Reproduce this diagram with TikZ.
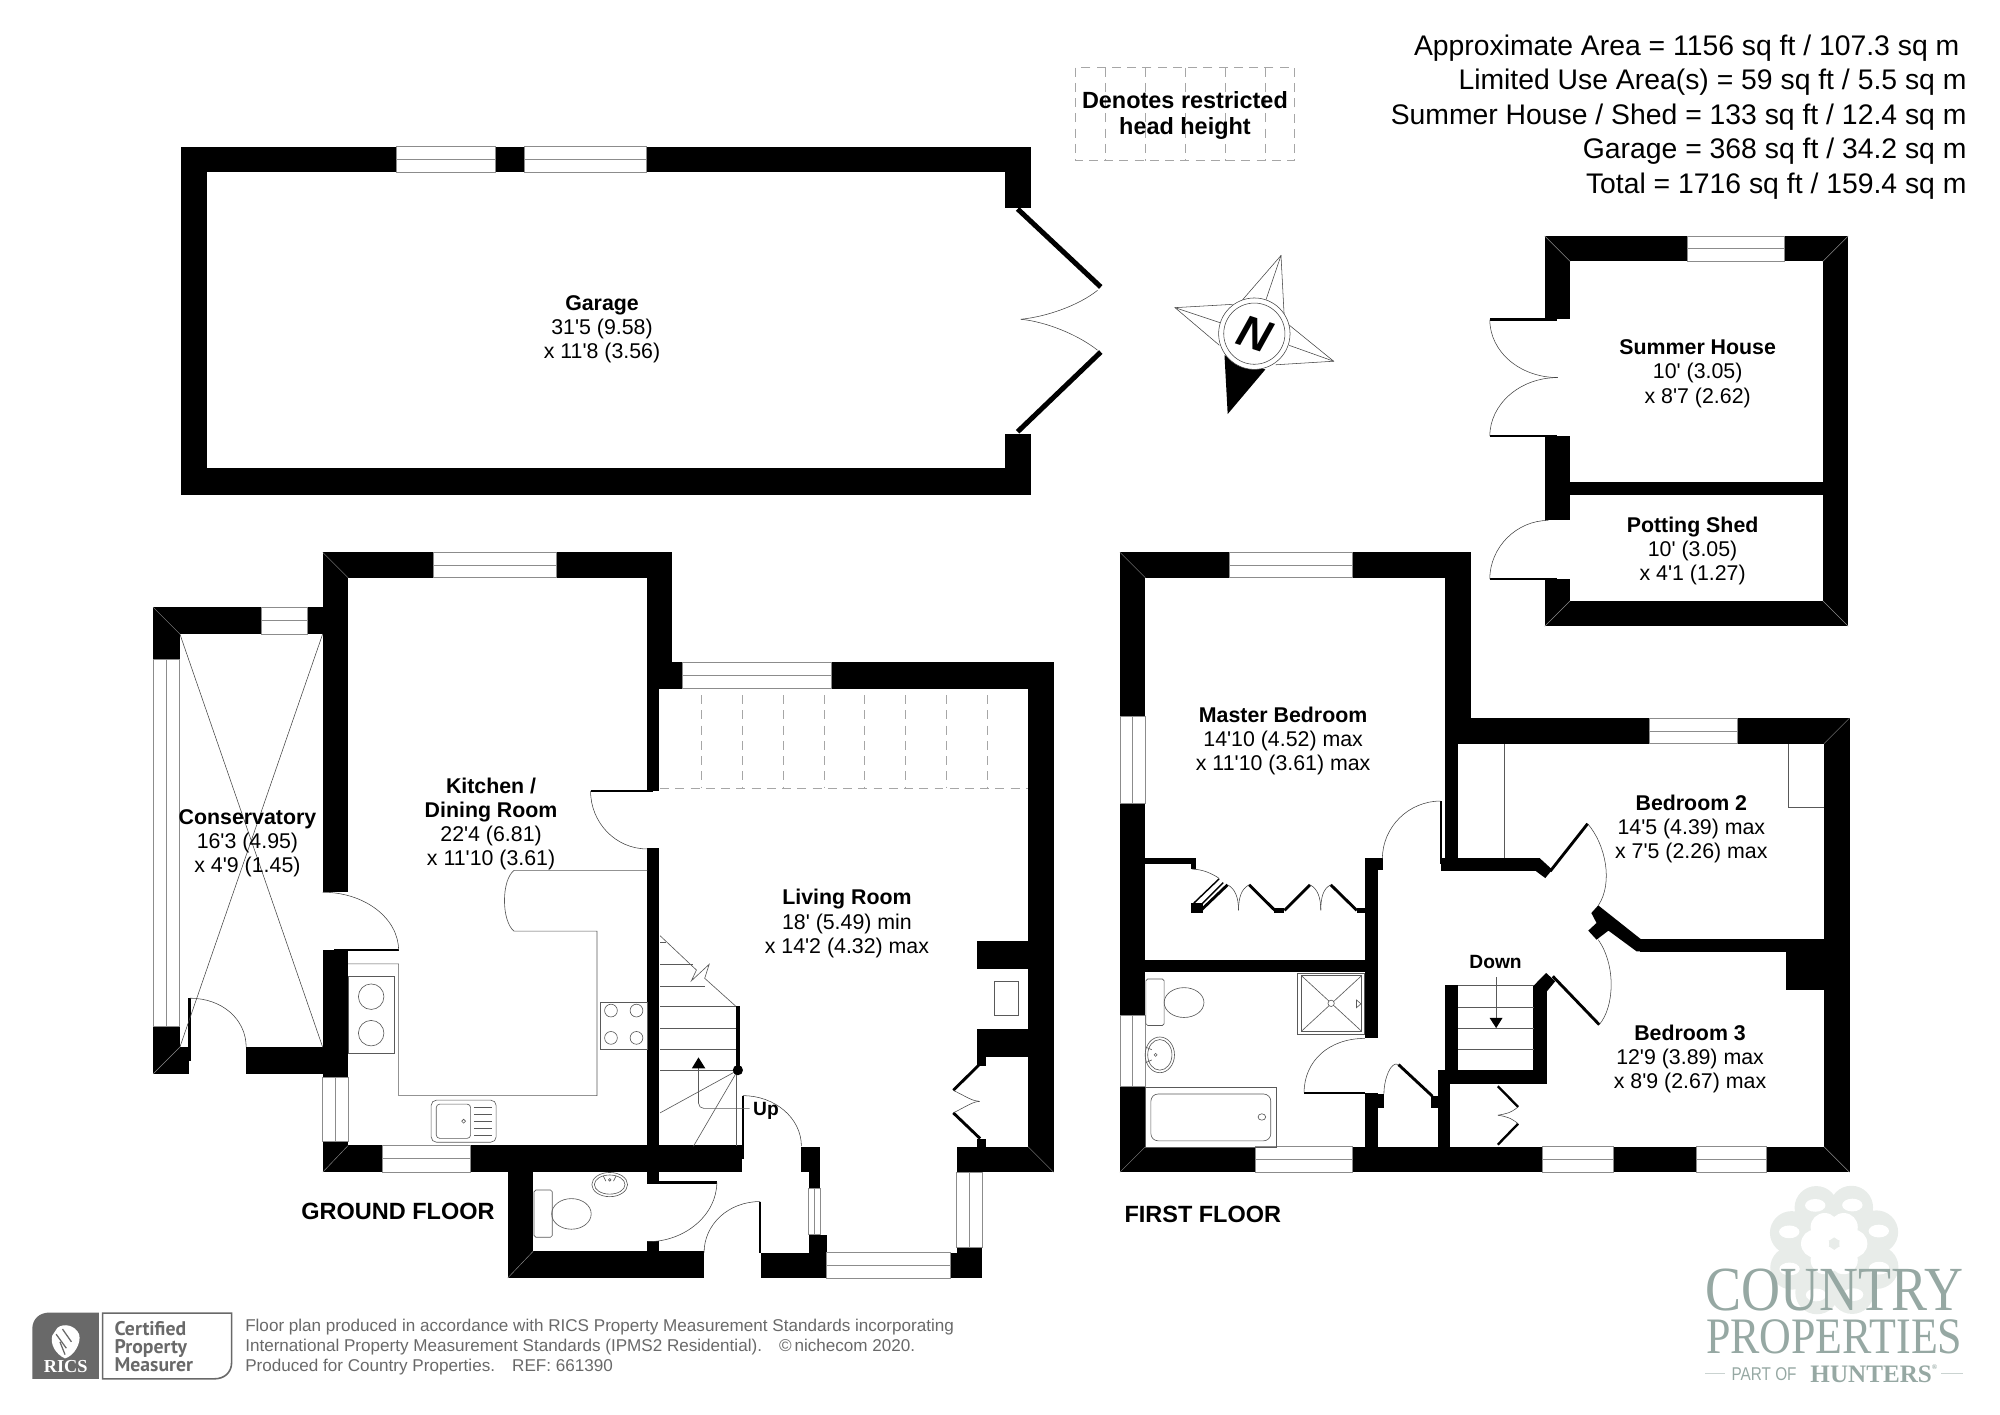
\documentclass[tikz,border=0pt]{standalone}
\usepackage{fontspec}
\setmainfont{Liberation Sans}
\newfontfamily\planface{Liberation Sans}[Ligatures=ResetAll]
\newfontfamily\logoface{Liberation Serif}
\newfontfamily\badgeface{PT Sans}
\definecolor{logogrey}{RGB}{150,168,163}
\definecolor{petal}{RGB}{232,236,233}
\definecolor{printgrey}{RGB}{105,105,105}
\tikzset{
  wall/.style={fill=black},
  winbox/.style={draw=black!45,fill=white,line width=.4pt},
  fitting/.style={draw=black!65,line width=.35pt},
  sweep/.style={draw=black!75,line width=.3pt},
  leaf/.style={draw=black,line width=1.3pt},
  heavyleaf/.style={draw=black,line width=2.8pt},
  lowroof/.style={draw=black!35,dashed,dash pattern=on 5pt off 3.5pt,line width=.4pt},
  room/.style={align=center,inner sep=0pt,font=\fontsize{11.9}{13.4}\planface\selectfont},
  floorname/.style={inner sep=0pt,font=\fontsize{13.1}{15}\selectfont\bfseries}
}
\begin{document}
\begin{tikzpicture}[x=.025cm,y=-.025cm]
\useasboundingbox (0,0) rectangle (1568,1108.6);

% walls
\foreach \xa/\ya/\xb/\yb in {
  142/115/808/135, 142/115/162/388, 142/367/808/388, 788/115/808/163, 788/340/808/388,
  1211/185/1449/205, 1211/185/1231/250, 1211/342/1231/408, 1211/454/1231/491, 1429/185/1449/491,
  1211/378/1449/388, 1211/471/1449/491,
  120/476/253/497, 120/476/141/517, 120/805/141/842, 120/821/148/842, 193/821/253/842,
  253/433/527/453, 253/433/273/699, 253/745/273/845, 253/895/273/919, 253/898/582/919,
  507/433/527/520, 507/520/517/620, 507/665/517/928, 507/973/517/981,
  507/519/826/540, 806/519/826/919, 766/738/806/760, 766/807/806/829, 766/829/773/836,
  766/893/773/899, 750/899/826/919, 745/982/770/1002, 750/978/770/1002, 628/899/643/919, 634/919/643/932,
  634/968/648/1002, 597/982/648/1002, 398/919/418/1002, 398/981/552/1002,
  878/433/1153/453, 878/433/898/562, 878/630/898/796, 878/852/898/919, 878/899/1450/919,
  1133/433/1153/583, 1133/563/1143/683, 1133/563/1450/583, 1430/563/1450/919,
  1130/673/1207/683, 1400/746/1430/776, 1286/736/1430/746,
  1070/673/1084/682, 1070/673/1080/814, 1070/857/1080/919, 898/753/1080/762,
  898/673/938/677, 934/673/938/681, 934/708/943/716, 999/712/1007/716, 1064/712/1070/716,
  1080/858/1085/869, 1122/859/1127/869, 1127/839/1137/919, 1127/839/1213/850,
  1133/772/1143/839, 1202/773/1213/850}
  {\fill[wall] (\xa,\ya) rectangle (\xb,\yb);}
\fill[wall] (1207,672.7) -- (1217,681.8) -- (1211.5,688.4) -- (1204.2,683) -- cycle;
\fill[wall] (1253,709.8) -- (1286.3,736.2) -- (1300,736.2) -- (1300,745.8) -- (1283,745.8)
  -- (1261,729.6) -- (1251.7,736.7) -- (1245.2,729.6) -- (1251.7,723.6) -- (1247.6,715.8) -- cycle;
\fill[wall] (1202.4,772.7) -- (1212.2,762.8) -- (1219.3,769.3) -- (1212.8,777.2) -- cycle;

% corner mitres
\foreach \xa/\ya/\xb/\yb in {
  120/476/141/497, 120/842/141/821, 253/433/273/453, 253/919/273/898, 826/919/806/899,
  398/1002/418/981, 1211/185/1231/205, 1449/185/1429/205, 1449/491/1429/471, 1211/491/1231/471,
  878/433/898/453, 878/919/898/899, 1450/563/1430/583, 1450/919/1430/899}
  {\draw[black!45,line width=.25pt] (\xa,\ya) -- (\xb,\yb);}

% windows along x, then along y
\foreach \xa/\xb/\ya/\yb in {
  311/388/115/135, 411/507/115/135, 1323/1399/185/205, 205/241/476/497, 340/436/433/453,
  535/652/519/540, 648/745/982/1002, 964/1060/433/453, 984/1060/899/919,
  1293/1362/563/583, 1209/1265/899/919, 1330/1385/899/919, 300/369/898/919}
  {\draw[winbox] (\xa,\ya) rectangle (\xb,\yb);
   \draw[winbox] (\xa,{(\ya+\yb)/2}) -- (\xb,{(\ya+\yb)/2});}
\foreach \xa/\xb/\ya/\yb in {
  120/141/517/805, 253/273/845/895, 634/643/932/968, 750/770/919/978, 878/898/562/630, 878/898/796/852}
  {\draw[winbox] (\xa,\ya) rectangle (\xb,\yb);
   \draw[winbox] ({(\xa+\xb)/2},\ya) -- ({(\xa+\xb)/2},\yb);}

% door leaves
\draw[heavyleaf] (797.8,163.8) -- (863,225);
\draw[heavyleaf] (797.8,338.5) -- (863,276);
\draw[leaf] (148.5,782.6) -- (148.5,832);
\draw[leaf] (262,745) -- (312.5,745);
\draw[leaf] (463,620) -- (512,620);
\draw[leaf] (507.6,927) -- (562,927);
\draw[leaf] (596,942) -- (596,982);
\draw[leaf] (582.5,859) -- (582.5,909);
\draw[leaf] (1168,250.6) -- (1221,250.6);
\draw[leaf] (1168,342) -- (1221,342);
\draw[leaf] (1168,454) -- (1221,454);
\draw[leaf] (1129.5,628) -- (1129.5,677);
\draw[leaf] (1022.4,856.7) -- (1070,856.7);
\draw[leaf,line width=1.6pt] (768.4,834) -- (747.4,854.8);
\draw[leaf,line width=1.6pt] (768.4,892.6) -- (747.4,872.5);
\draw[leaf,line width=1.6pt] (1215.4,683) -- (1244.7,645.8);
\draw[leaf,line width=1.6pt] (1217.4,765.4) -- (1253.8,803.3);
\draw[leaf,line width=1.6pt] (1096.4,834.6) -- (1123,859.4);
\draw[leaf] (1174.3,851.6) -- (1190.2,867.8);
\draw[leaf] (1190.2,881) -- (1174.3,897.4);
\draw[leaf,line width=.8pt] (955.8,689) -- (936,708);
\draw[leaf,line width=.8pt] (959,692) -- (940,711);
\draw[leaf,line width=1.6pt] (941.5,713.7) -- (962.4,693.7);
\draw[leaf,line width=1.6pt] (979.3,693.7) -- (999.5,713.7);
\draw[leaf,line width=1.6pt] (1007,713.7) -- (1027,693.7);
\draw[leaf,line width=1.6pt] (1043.3,693.7) -- (1063.7,713.7);

% door sweeps
\draw[sweep] (860.5,227.6) .. controls +(-15,12) and +(20,-2) .. (800.4,250.3);
\draw[sweep] (860.5,274.6) .. controls +(-15,-12) and +(20,2) .. (800.4,250.3);
\draw[sweep] (149,782.6) .. controls +(25,0) and +(0,-22) .. (193,821);
\draw[sweep] (253,699.5) .. controls +(33,0) and +(0,-25) .. (312.5,745);
\draw[sweep] (463,620) .. controls +(0,25) and +(-25,0) .. (507.6,665.6);
\draw[sweep] (562,927) .. controls +(0,25) and +(30,0) .. (507.6,973.5);
\draw[sweep] (596,942) .. controls +(-25,0) and +(0,-22) .. (552,982);
\draw[sweep] (582.5,859) .. controls +(25,0) and +(0,-22) .. (628.3,898.6);
\draw[sweep] (747.4,854.8) .. controls +(10,5) and +(-5,0) .. (768,863.5);
\draw[sweep] (747.4,872.5) .. controls +(10,-5) and +(-5,0) .. (768,863.5);
\draw[sweep] (1168,250.6) .. controls +(0,25) and +(-30,0) .. (1221.4,296);
\draw[sweep] (1168,342) .. controls +(0,-25) and +(-30,0) .. (1221.4,296);
\draw[sweep] (1168,454) .. controls +(0,-25) and +(-25,0) .. (1214,408);
\draw[sweep] (1129.5,628) .. controls +(-25,0) and +(0,-25) .. (1083.8,673.2);
\draw[sweep] (1022.4,856.7) .. controls +(0,-25) and +(-28,0) .. (1070,814.1);
\draw[sweep] (1085,857.7) .. controls +(0,-12) and +(-6,-3) .. (1096.4,834.6);
\draw[sweep] (1244.7,645.8) .. controls +(14,16) and +(12,-18) .. (1253,710);
\draw[sweep] (1253.8,803.3) .. controls +(12,-14) and +(14,20) .. (1253,736.7);
\draw[sweep] (934.4,681.4) .. controls +(8,0) and +(-6,-4) .. (955.8,688.6);
\draw[sweep] (962.4,693.7) .. controls +(6,3) and +(0,-10) .. (971,713.7);
\draw[sweep] (979.3,693.7) .. controls +(-6,3) and +(0,-10) .. (971,713.7);
\draw[sweep] (1027,693.7) .. controls +(6,3) and +(0,-10) .. (1035.5,713.7);
\draw[sweep] (1043.3,693.7) .. controls +(-6,3) and +(0,-10) .. (1035.5,713.7);
\draw[sweep] (1190.2,867.8) .. controls +(-6,5) and +(6,-1) .. (1174.3,874.3);
\draw[sweep] (1190.2,881) .. controls +(-6,-5) and +(6,1) .. (1174.3,874.3);

% conservatory roof
\draw[sweep] (141,497) -- (253,821);
\draw[sweep] (253,497) -- (141,821);

% kitchen
\draw[fitting] (507.6,682.4) -- (403,682.4) .. controls (393,690) and (393,722) .. (403,730)
  -- (468,730) -- (468,859) -- (312.5,859) -- (312.5,755.7) -- (273,755.7);
\draw[fitting] (273,765.8) rectangle (309,825.5);
\draw[fitting] (291,781.4) circle (10);
\draw[fitting] (291,810) circle (10);
\draw[fitting] (471,786) rectangle (507.6,823);
\foreach \hx in {479,499} \foreach \hy in {792.3,813.7}
  {\draw[fitting] (\hx,\hy) circle (5);}
\draw[fitting,rounded corners=3pt] (338,862.5) rectangle (389,895.5);
\draw[fitting,rounded corners=2pt] (342,865.6) rectangle (369,892.5);
\draw[fitting] (363.5,879) circle (1.5);
\foreach \hy in {868,873.5,879,884.5,890}
  {\draw[fitting,line width=.7pt] (371.5,\hy) -- (385.5,\hy);}

% ground floor wc
\draw[fitting,rounded corners=1pt] (418.7,933) rectangle (433,970);
\draw[fitting] (448,951.7) ellipse (15.5 and 12);
\draw[fitting] (478,928.7) ellipse (14 and 9.5);
\draw[fitting] (478,928.7) ellipse (12 and 7.5);
\draw[fitting] (478,925) circle (1);
\draw[fitting] (473,922) -- (475,926);
\draw[fitting] (483,922) -- (481,926);

% fireplace
\draw[fitting] (779.4,769.4) rectangle (798,796);

% ground floor stairs
\foreach \ty/\tx in {739/522,756/543,773/553,789/577,806/578,823/578,839/578}
  {\draw[fitting] (517.5,\ty) -- (\tx,\ty);}
\draw[fitting] (517.5,733.6) -- (546,760.5) -- (542,769) -- (556,756) -- (552.5,767) -- (577,789);
\draw[fitting] (578.5,839) -- (517.5,872.5);
\draw[fitting] (578.5,839) -- (543.7,898.6);
\draw[fitting] (577,839) -- (577,898.6);
\draw[black,line width=2.2pt] (578.5,789) -- (578.5,839);
\fill[black] (578.5,839) circle (4);
\draw[fitting,rounded corners=3pt] (587.7,869) -- (547.6,869) -- (547.6,836);
\fill[black] (547.6,829) -- (553,837.6) -- (542.4,837.6) -- cycle;
\node[inner sep=0pt,font=\fontsize{10.7}{12}\selectfont\bfseries] (Upn) at (600.5,871) {Up};

% restricted head height over the living room
\draw[lowroof] (517.5,618) -- (806,618);
\foreach \rx in {549.7,581.7,613.8,646,678,709.7,742,774}
  {\draw[lowroof] (\rx,545) -- (\rx,618);}

% bathroom
\draw[fitting,rounded corners=1pt] (898.4,767.5) rectangle (912.7,804);
\draw[fitting] (928.3,786) ellipse (15.6 and 11.7);
\draw[fitting] (909.3,827) ellipse (11.5 and 14);
\draw[fitting] (909.3,827) ellipse (9.5 and 12);
\draw[fitting] (906,827) circle (1.2);
\draw[fitting] (898.5,821) -- (903,823);
\draw[fitting] (898.5,833) -- (903,831);
\draw[fitting] (898,852.6) rectangle (1000.8,899.2);
\draw[fitting,rounded corners=4pt] (902.3,857.7) rectangle (996.3,894.4);
\draw[fitting] (989.3,875.7) ellipse (3 and 2.5);
\draw[fitting] (1017,763) rectangle (1070,811);
\draw[fitting] (1020.4,765) rectangle (1067.4,808.4);
\draw[fitting] (1020.4,765) -- (1067.4,808.4);
\draw[fitting] (1020.4,808.4) -- (1067.4,765);
\fill[white] (1043.6,786.6) circle (2.5);
\draw[fitting] (1043.6,786.6) circle (2.5);
\draw[fitting] (1063.5,784) -- (1067,787) -- (1063.5,790) -- cycle;

% first floor stairs and bedroom lines
\foreach \ty in {772.7,789.5,806.4,823}
  {\draw[fitting] (1143.4,\ty) -- (1202.4,\ty);}
\draw[fitting] (1173,766) -- (1173,800);
\fill[black] (1173,806) -- (1167.8,798) -- (1178,798) -- cycle;
\node[inner sep=0pt,font=\fontsize{10.7}{12}\selectfont\bfseries] (Downn) at (1172.5,754.5) {Down};
\draw[fitting] (1179.5,583.4) -- (1179.5,672.7);
\draw[fitting] (1402,583.4) -- (1402,633) -- (1429.7,633);

% restricted head height key
\draw[lowroof] (843,53) rectangle (1015,126);
\foreach \rx in {866.5,897.6,929,960.4,991.7}
  {\draw[lowroof] (\rx,53) -- (\rx,126);}
\node[align=center,inner sep=0pt,font=\fontsize{13.07}{14.9}\selectfont\bfseries] (key) at (929,90.5) {Denotes restricted\\head height};

% compass
\fill[black] (960,278.5) -- (962.5,324.6) -- (992,289.7) -- cycle;
\draw[sweep] (974.2,235) -- (1004.3,200.3) -- (1006.7,246);
\draw[sweep] (992.5,235) -- (1004.3,200.3);
\draw[sweep] (966.4,238.6) -- (921.2,241.2) -- (956,270.7);
\draw[sweep] (956.5,253) -- (921.2,241.2);
\draw[sweep] (1009.3,253.7) -- (1045.6,283.2) -- (1000,286);
\draw[sweep] (1010.6,270.7) -- (1045.6,283.2);
\draw[sweep,fill=white] (983.4,261.6) circle (28);
\draw[sweep] (983.4,261.6) circle (24);
\node[rotate=-18,inner sep=0pt,font=\fontsize{25}{25}\selectfont\bfseries\itshape] (north) at (983.4,261.6) {N};

% rooms
\node[room] (garage) at (472,258) {\textbf{Garage}\\31'5 (9.58)\\x 11'8 (3.56)};
\node[room] (summer) at (1331,293) {\textbf{Summer House}\\10' (3.05)\\x 8'7 (2.62)};
\node[room] (potting) at (1327,432) {\textbf{Potting Shed}\\10' (3.05)\\x 4'1 (1.27)};
\node[room] (conserv) at (194,661) {\textbf{Conservatory}\\16'3 (4.95)\\x 4'9 (1.45)};
\node[room] (kitchen) at (385,646) {\textbf{Kitchen /}\\\textbf{Dining Room}\\22'4 (6.81)\\x 11'10 (3.61)};
\node[room] (living) at (664,724) {\textbf{Living Room}\\18' (5.49) min\\x 14'2 (4.32) max};
\node[room] (master) at (1006,581) {\textbf{Master Bedroom}\\14'10 (4.52) max\\x 11'10 (3.61) max};
\node[room] (bedtwo) at (1326,650) {\textbf{Bedroom 2}\\14'5 (4.39) max\\x 7'5 (2.26) max};
\node[room] (bedthree) at (1325,830) {\textbf{Bedroom 3}\\12'9 (3.89) max\\x 8'9 (2.67) max};
\node[floorname] (ground) at (312,950) {GROUND FLOOR};
\node[floorname] (first) at (943,952) {FIRST FLOOR};

% areas
\node[align=right,anchor=north east,inner sep=0pt,font=\fontsize{15.8}{19.2}\selectfont] (areas) at (1542,27)
  {Approximate Area = 1156 sq ft / 107.3 sq m\kern4pt\\Limited Use Area(s) = 59 sq ft / 5.5 sq m\\Summer House / Shed = 133 sq ft / 12.4 sq m\\Garage = 368 sq ft / 34.2 sq m\\Total = 1716 sq ft / 159.4 sq m};

% footer
\fill[printgrey] (25.3,1081) -- (25.3,1042) .. controls (25.3,1034) and (31,1029) .. (39,1029) -- (77.6,1029) -- (77.6,1081) -- cycle;
\draw[printgrey,line width=.9pt] (80.5,1029.5) -- (181.6,1029.5) -- (181.6,1068) .. controls (181.6,1076) and (176,1081) .. (168,1081) -- (80.5,1081) -- cycle;
\fill[white] (45,1041) .. controls (50,1037) and (59,1039) .. (62,1046) .. controls (64,1053) and (58,1063) .. (51,1065)
  .. controls (44,1062) and (39,1054) .. (41,1047) -- cycle;
\foreach \sa/\sb/\sc/\sd in {44/1046/52/1057, 49/1042/56/1052, 47/1052/51/1062}
  {\draw[printgrey,line width=.7pt] (\sa,\sb) -- (\sc,\sd);}
\node[inner sep=0pt,text=white,font=\fontsize{10.2}{11}\logoface\selectfont\bfseries] (rics) at (51.5,1071.5) {RICS};
\node[align=left,anchor=west,inner sep=0pt,text=printgrey,font=\fontsize{11}{10.1}\badgeface\selectfont\bfseries] (measurer) at (89.6,1055.8) {Certified\\Property\\Measurer};
\node[align=left,anchor=west,inner sep=0pt,text=printgrey,font=\fontsize{9.53}{11.3}\selectfont] (notes) at (192,1056)
  {Floor plan produced in accordance with RICS Property Measurement Standards incorporating\\International Property Measurement Standards (IPMS2 Residential).\quad\textcopyright\,nichecom 2020.\\Produced for Country Properties.\quad REF: 661390};

% logo
\foreach \a in {0,45,...,315}
  {\fill[petal] ({1438+36*cos(\a+22)},{980+36*sin(\a+22)}) circle (17);}
\fill[petal] (1438,980) circle (36);
\foreach \a in {0,45,...,315}
  {\fill[white] ({1438+38*cos(\a+22)},{980+38*sin(\a+22)}) ellipse (8 and 5);}
\foreach \a in {0,60,...,300}
  {\fill[white] ({1438+15*cos(\a)},{975+15*sin(\a)}) circle (11);}
\node[inner sep=0pt,text=logogrey,align=center,xscale=.86,font=\logoface] (logotext) at (1438,1028)
  {\fontsize{35}{29}\selectfont COUNTRY\\[3.5pt]\fontsize{28.5}{29}\selectfont PROPERTIES};
\draw[logogrey!50,line width=.6pt] (1337,1077) -- (1352,1077);
\draw[logogrey!50,line width=.6pt] (1522,1077) -- (1539,1077);
\node[inner sep=0pt,text=logogrey,xscale=.83,font=\fontsize{10.3}{12}\selectfont] (partof) at (1383,1077) {PART OF};
\node[inner sep=0pt,text=logogrey,font=\fontsize{14}{14}\logoface\selectfont\bfseries] (hunters) at (1467,1077) {HUNTERS\rlap{\raisebox{1.2ex}{\fontsize{4}{4}\selectfont ®}}};
\end{tikzpicture}
\end{document}
